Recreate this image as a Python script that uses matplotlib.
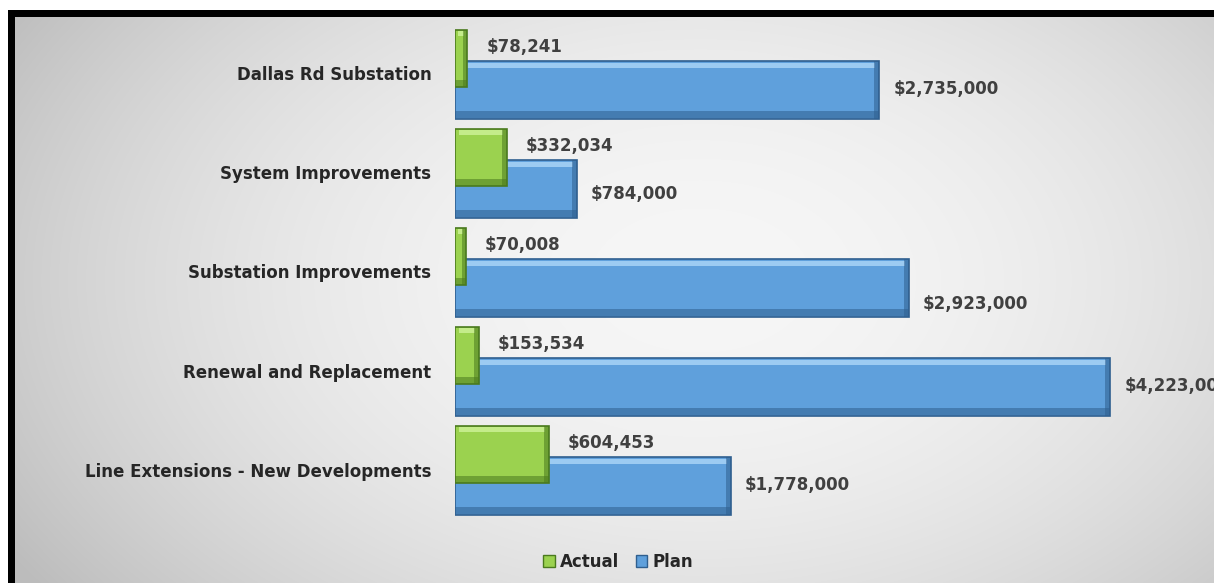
import numpy as np
import matplotlib.pyplot as plt

# datos
categorias = ['Dallas Rd Substation', 'System Improvements', 'Substation Improvements',
              'Renewal and Replacement', 'Line Extensions - New Developments']
actual = [78241, 332034, 70008, 153534, 604453]
plan = [2735000, 784000, 2923000, 4223000, 1778000]

# ajuste vertical de etiquetas de Plan (como las coloca Excel)
plan_label_dy = [0.0, 0.06, 0.17, 0.0, 0.0]

verde, verde_osc, verde_cl = '#9bd24f', '#4a7a1e', '#c4ec8a'
azul, azul_osc, azul_cl = '#5fa0dc', '#2f5f8f', '#9ccbf2'

W, H = 1214, 583
fig = plt.figure(figsize=(W / 100, H / 100), dpi=100)

# fondo: degradado gris con borde negro arriba / izquierda
bg = fig.add_axes([0, 0, 1, 1])
yy, xx = np.mgrid[0:H, 0:W]
r2 = ((xx - 700) / 800.0) ** 2 + ((yy - 280) / 520.0) ** 2
grad = np.clip(0.965 - 0.22 * r2, 0.74, 1)
img = np.dstack([grad] * 3)
img[:10, :] = 1
img[:, :8] = 1
img[10:17, 8:] = 0
img[10:, 8:15] = 0
bg.imshow(img, aspect='auto', extent=(0, W, H, 0))
bg.axis('off')

ax = fig.add_axes([455 / W, 1 - 524 / H, 745 / W, 505 / H])
ax.patch.set_alpha(0)
y = np.arange(len(categorias))
h = 0.58
dy_a, dy_p = -0.15, 0.165
px = 4.8e6 / 745  # dolares por pixel


def bevel(pos, vals, color, dark, light, z):
    vals = np.array(vals, dtype=float)
    ax.barh(pos, vals, height=h, color=color, edgecolor=dark, linewidth=1.2, zorder=z)
    ins = np.minimum(4 * px, vals * 0.25)
    ax.barh(pos - h / 2 + 0.04, vals - 2 * ins, left=ins, height=0.05, color=light, zorder=z + 0.1)
    ax.barh(pos + h / 2 - 0.04, vals, height=0.07, color=dark, alpha=0.55, zorder=z + 0.1)
    d = np.minimum(5 * px, vals * 0.35)
    ax.barh(pos, d, left=vals - d, height=h, color=dark, alpha=0.55, zorder=z + 0.1)


bevel(y + dy_p, plan, azul, azul_osc, azul_cl, 2)
bevel(y + dy_a, actual, verde, verde_osc, verde_cl, 3)

fnt = dict(fontsize=12, fontweight='bold', color='#404040', family='DejaVu Sans')
for i in range(len(categorias)):
    ax.text(actual[i] + 19 * px, y[i] - 0.27, f'${actual[i]:,}', va='center', ha='left', **fnt)
    ax.text(plan[i] + 14 * px, y[i] + 0.16 + plan_label_dy[i], f'${plan[i]:,}',
            va='center', ha='left', clip_on=False, **fnt)

ax.set_xlim(0, 4.8e6)
ax.set_ylim(4.55, -0.55)
ax.set_yticks(y)
ax.set_yticklabels(categorias, fontsize=12, fontweight='bold', color='#262626')
ax.tick_params(axis='y', length=0, pad=17)
ax.set_xticks([])
for s in ax.spines.values():
    s.set_visible(False)

from matplotlib.patches import Patch
handles = [Patch(facecolor=verde, edgecolor=verde_osc), Patch(facecolor=azul, edgecolor=azul_osc)]
fig.legend(handles, ['Actual', 'Plan'], loc='center', bbox_to_anchor=(618 / W, 1 - 562 / H),
           ncol=2, frameon=False, handlelength=0.7, handleheight=0.7, handletextpad=0.3,
           columnspacing=1.0, prop=dict(size=12, weight='bold'), labelcolor='#262626')

fig.savefig('out.png', dpi=100)
